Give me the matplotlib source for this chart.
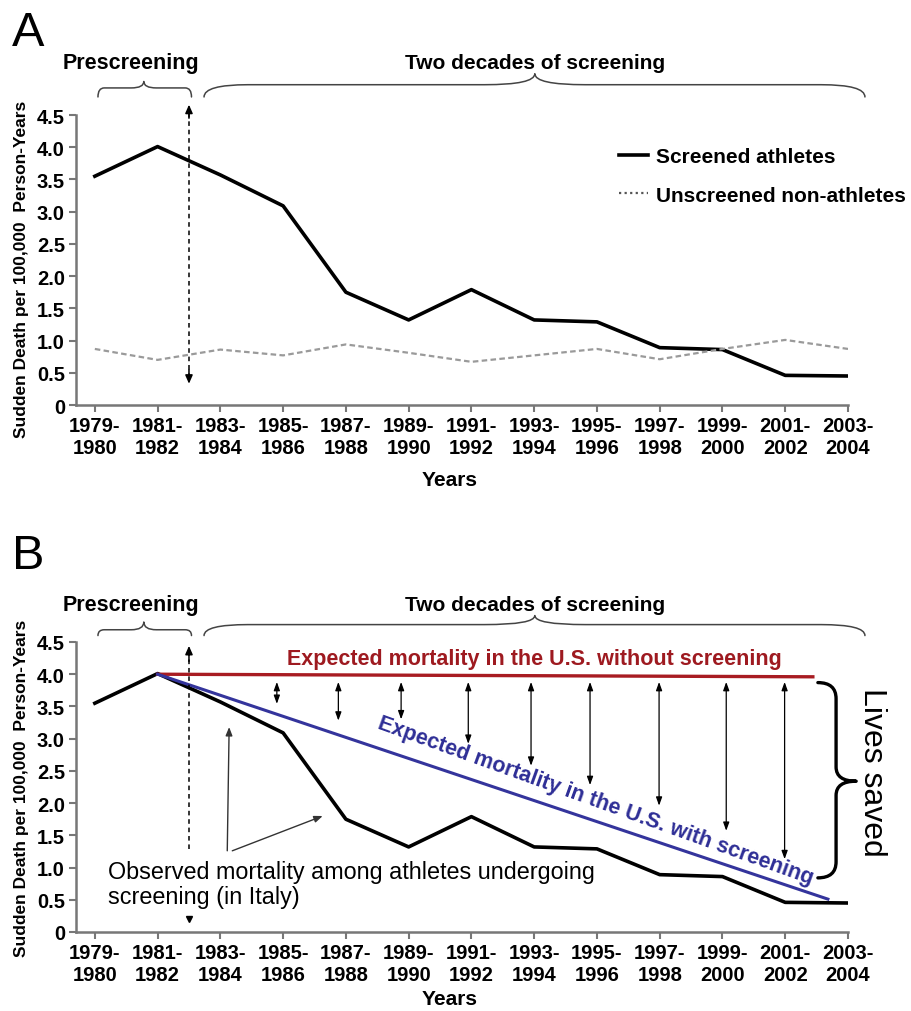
import numpy as np
import matplotlib
matplotlib.use('Agg')
import matplotlib.pyplot as plt
from matplotlib.path import Path
from matplotlib.patches import PathPatch
from matplotlib.lines import Line2D

plt.rcParams['font.family'] = ['Liberation Sans', 'DejaVu Sans']

# data (sudden death per 100,000 person-years)
periods = ['1979-\n1980', '1981-\n1982', '1983-\n1984', '1985-\n1986', '1987-\n1988',
           '1989-\n1990', '1991-\n1992', '1993-\n1994', '1995-\n1996', '1997-\n1998',
           '1999-\n2000', '2001-\n2002', '2003-\n2004']
screened = [3.55, 4.01, 3.57, 3.09, 1.75, 1.32, 1.79, 1.32, 1.29, 0.89, 0.86, 0.46, 0.45]
unscreened = [0.87, 0.70, 0.86, 0.77, 0.94, 0.81, 0.67, 0.77, 0.87, 0.71, 0.87, 1.01, 0.87]

yticks = [0, 0.5, 1.0, 1.5, 2.0, 2.5, 3.0, 3.5, 4.0, 4.5]
ytick_labels = ['0', '0.5', '1.0', '1.5', '2.0', '2.5', '3.0', '3.5', '4.0', '4.5']

# panel B: expected U.S. mortality lines (x = period index)
no_screen_x = [1, 11.44]
no_screen_y = [4.0, 3.96]
with_screen_x = [1, 11.68]
with_screen_y = [4.0, 0.51]

# "lives saved" double arrows between the two expected lines
gap_x = [2.9, 3.88, 4.88, 5.95, 6.95, 7.89, 8.99, 10.06, 10.99]
gap_top = 3.88
gap_bottom = [3.54, 3.28, 3.30, 2.92, 2.58, 2.28, 1.96, 1.57, 1.13]

x = np.arange(len(periods))
screen_start = 1.5

GREY = '#777777'
RED = '#A81C22'
BLUE = '#34349C'


def brace(ax, a0, a1, am, base, flat, tip, r, r2, vertical=False, lw=1.1, color='#444444'):
    # curly brace drawn from quadratic bezier pieces
    s = 1 if a1 > a0 else -1
    pts = [(a0, base), (a0, flat), (a0 + s * r, flat), (am - s * r2, flat), (am, flat), (am, tip),
           (am, flat), (am + s * r2, flat), (a1 - s * r, flat), (a1, flat), (a1, base)]
    codes = [Path.MOVETO, Path.CURVE3, Path.CURVE3, Path.LINETO, Path.CURVE3, Path.CURVE3,
             Path.CURVE3, Path.CURVE3, Path.LINETO, Path.CURVE3, Path.CURVE3]
    if vertical:
        pts = [(q, p) for p, q in pts]
    ax.add_patch(PathPatch(Path(pts, codes), fill=False, lw=lw, color=color,
                           clip_on=False, capstyle='round', joinstyle='round'))


def setup(ax, ylab_y, xlab_y):
    ax.set_xlim(-0.3, 12)
    ax.set_ylim(0, 4.5)
    ax.spines[['top', 'right']].set_visible(False)
    for s in ['left', 'bottom']:
        ax.spines[s].set_color(GREY)
        ax.spines[s].set_linewidth(1.8)
    ax.set_xticks(x, periods)
    ax.set_yticks(yticks, ytick_labels)
    ax.tick_params(length=5, width=1.5, color=GREY, labelsize=14.5, pad=3)
    for lab in ax.get_xticklabels() + ax.get_yticklabels():
        lab.set_fontweight('bold')
    ax.set_ylabel('Sudden Death per 100,000  Person-Years', fontsize=12.5, fontweight='bold')
    ax.yaxis.set_label_coords(-0.061, ylab_y)
    ax.set_xlabel('Years', fontsize=15, fontweight='bold')
    ax.xaxis.set_label_coords(0.484, xlab_y)


def periods_header(ax, text_y, pb, pf, pt, db, df, dt):
    ax.text(0.58, text_y, 'Prescreening', ha='center', va='center', fontsize=15.5,
            fontweight='bold', clip_on=False)
    ax.text(7.02, text_y, 'Two decades of screening', ha='center', va='center', fontsize=15,
            fontweight='bold', clip_on=False)
    brace(ax, 0.05, 1.54, 0.78, pb, pf, pt, 0.1, 0.2)
    brace(ax, 1.74, 12.27, 7.01, db, df, dt, 0.7, 0.8)


fig = plt.figure(figsize=(9.11, 10.12), dpi=100)

# ---------------- panel A ----------------
axA = fig.add_axes([76 / 911, 1 - 406 / 1012, 772 / 911, 290 / 1012])
setup(axA, 0.47, -0.225)
axA.plot(x, screened, color='black', lw=2.6, solid_joinstyle='round', label='Screened athletes')
axA.plot(x, unscreened, color='#9a9a9a', lw=1.6, ls=(0, (2.5, 1.5)), label='Unscreened non-athletes')

# dashed double arrow marking start of screening
axA.plot([screen_start, screen_start], [0.42, 4.55], color='black', lw=1.1, ls=(0, (3, 2.5)),
         clip_on=False)
axA.annotate('', xy=(screen_start, 4.66), xytext=(screen_start, 4.45),
             arrowprops=dict(arrowstyle='-|>,head_length=0.5,head_width=0.22', color='black', lw=1.1,
                             shrinkA=0, shrinkB=0), annotation_clip=False)
axA.annotate('', xy=(screen_start, 0.33), xytext=(screen_start, 0.55),
             arrowprops=dict(arrowstyle='-|>,head_length=0.5,head_width=0.22', color='black', lw=1.1,
                             shrinkA=0, shrinkB=0), annotation_clip=False)

periods_header(axA, 5.31, 4.78, 4.92, 5.02, 4.78, 4.97, 5.14)

handles = [Line2D([], [], color='black', lw=2.6),
           Line2D([], [], color='#555555', lw=1.6, ls=(0, (1, 1.5)))]
axA.legend(handles, ['Screened athletes', 'Unscreened non-athletes'], loc='upper left',
           bbox_to_anchor=(0.703, 0.89), frameon=False, borderpad=0, borderaxespad=0,
           handlelength=1.4, handletextpad=0.4, labelspacing=0.95,
           prop=dict(size=15, weight='bold'))

fig.text(0.031, 0.967, 'A', fontsize=35, ha='center', va='center')

# ---------------- panel B ----------------
axB = fig.add_axes([76 / 911, 1 - 933 / 1012, 772 / 911, 290 / 1012])
setup(axB, 0.5, -0.198)
axB.plot(x, screened, color='black', lw=2.6, solid_joinstyle='round')
axB.plot(no_screen_x, no_screen_y, color=RED, lw=2.4)
axB.plot(with_screen_x, with_screen_y, color=BLUE, lw=2.2)

for gx, gb in zip(gap_x, gap_bottom):
    axB.annotate('', xy=(gx, gb), xytext=(gx, gap_top),
                 arrowprops=dict(arrowstyle='<|-|>,head_length=0.5,head_width=0.18', color='black',
                                 lw=0.9, shrinkA=0, shrinkB=0))

axB.plot([screen_start, screen_start], [1.29, 4.3], color='black', lw=1.1, ls=(0, (3, 2.5)),
         clip_on=False)
axB.annotate('', xy=(screen_start, 4.44), xytext=(screen_start, 4.2),
             arrowprops=dict(arrowstyle='-|>,head_length=0.5,head_width=0.22', color='black', lw=1.1,
                             shrinkA=0, shrinkB=0), annotation_clip=False)
axB.plot([screen_start], [0.2], marker='v', color='black', ms=4)

periods_header(axB, 5.08, 4.60, 4.69, 4.81, 4.60, 4.77, 4.91)

axB.text(7.0, 4.24, 'Expected mortality in the U.S. without screening', ha='center', va='center',
         fontsize=15.5, fontweight='bold', color='#9E1A20')
axB.text(7.98, 2.04, 'Expected mortality in the U.S. with screening', ha='center', va='center',
         fontsize=15.5, fontweight='bold', color='#2E2E96', rotation=-19.8, rotation_mode='anchor')

axB.text(0.21, 0.74, 'Observed mortality among athletes undergoing\nscreening (in Italy)',
         ha='left', va='center', fontsize=16.8, linespacing=1.1)
axB.annotate('', xy=(2.14, 3.18), xytext=(2.11, 1.26),
             arrowprops=dict(arrowstyle='-|>,head_length=0.5,head_width=0.2', color='#333333',
                             lw=1.0, shrinkA=0, shrinkB=0))
axB.annotate('', xy=(3.63, 1.80), xytext=(2.19, 1.26),
             arrowprops=dict(arrowstyle='-|>,head_length=0.5,head_width=0.2', color='#333333',
                             lw=1.0, shrinkA=0, shrinkB=0))

brace(axB, 3.87, 0.84, 2.34, 11.52, 11.81, 12.13, 0.25, 0.22, vertical=True, lw=2.4, color='black')
axB.text(12.38, 2.5, 'Lives saved', rotation=270, ha='center', va='center', fontsize=23,
         clip_on=False)

fig.text(0.031, 0.45, 'B', fontsize=35, ha='center', va='center')

fig.savefig('out.png', dpi=100)
